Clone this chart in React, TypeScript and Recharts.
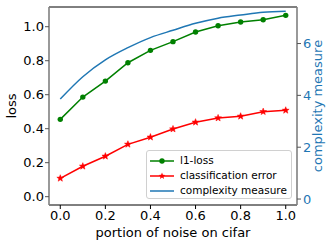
import { LineChart, Line, XAxis, YAxis, Legend, ReferenceLine } from 'recharts'

const noise = [0, 0.1, 0.2, 0.3, 0.4, 0.5, 0.6, 0.7, 0.8, 0.9, 1.0]
const l1Loss = [0.455, 0.586, 0.68, 0.788, 0.861, 0.912, 0.969, 1.006, 1.028, 1.041, 1.067]
const classError = [0.108, 0.179, 0.238, 0.308, 0.35, 0.398, 0.438, 0.463, 0.473, 0.5, 0.508]
const complexity = [3.86, 4.72, 5.37, 5.84, 6.23, 6.51, 6.78, 6.98, 7.1, 7.21, 7.25]

const xTicks = [0, 0.2, 0.4, 0.6, 0.8, 1.0]
const lossTicks = [0, 0.2, 0.4, 0.6, 0.8, 1.0]
const complexityTicks = [0, 2, 4, 6]

const lossDomain = [-0.049, 1.116]
const complexityDomain = [-0.23, 7.41]

const legendOrder = ['l1', 'err', 'cx']

const font = '"DejaVu Sans", sans-serif'
const GREEN = '#008000'
const RED = '#ff0000'
const BLUE = '#1f77b4'

const data = noise.map((x, i) => ({
  noise: x,
  l1: l1Loss[i],
  err: classError[i],
  cx: complexity[i]
}))

function starPath(cx: number, cy: number, r: number) {
  const pts: string[] = []
  for (let k = 0; k < 10; k++) {
    const rad = k % 2 === 0 ? r : r * 0.42
    const a = -Math.PI / 2 + (k * Math.PI) / 5
    pts.push(`${cx + rad * Math.cos(a)},${cy + rad * Math.sin(a)}`)
  }
  return `M${pts.join('L')}Z`
}

function StarDot(props: any) {
  const { cx, cy } = props
  if (cx == null || cy == null) return null
  return <path key={props.key ?? `${cx}-${cy}`} d={starPath(cx, cy, 3.6)} fill={RED} stroke={RED} strokeWidth={0.5} />
}

function LegendBox(props: any) {
  const payload = [...(props.payload || [])].sort(
    (a: any, b: any) => legendOrder.indexOf(a.dataKey) - legendOrder.indexOf(b.dataKey)
  )
  return (
    <div
      style={{
        width: 146,
        height: 49,
        boxSizing: 'border-box',
        border: '1px solid #d0d0d0',
        borderRadius: 3,
        background: 'rgba(255,255,255,0.8)',
        fontFamily: font,
        fontSize: 10.5,
        color: '#000',
        padding: '2px 0 0 2px'
      }}
    >
      {payload.map((entry: any) => (
        <div key={entry.value} style={{ display: 'flex', alignItems: 'center', height: 15 }}>
          <svg width={26} height={10} style={{ display: 'block' }}>
            <line x1={1} x2={25} y1={5} y2={5} stroke={entry.color} strokeWidth={1.5} />
            {entry.dataKey === 'l1' && <circle cx={13} cy={5} r={2.7} fill={GREEN} />}
            {entry.dataKey === 'err' && <path d={starPath(13, 5, 3.6)} fill={RED} />}
          </svg>
          <span style={{ marginLeft: 5, whiteSpace: 'nowrap', lineHeight: '15px' }}>{entry.value}</span>
        </div>
      ))}
    </div>
  )
}

function LossLabel(props: any) {
  const { x, y, height } = props.viewBox
  const cx = x + 15.5
  const cy = y + height / 2
  return (
    <text x={cx} y={cy} transform={`rotate(-90 ${cx} ${cy})`} textAnchor="middle" fontSize={13} fontFamily={font} fill="#000">
      loss
    </text>
  )
}

function ComplexityLabel(props: any) {
  const { x, y, height } = props.viewBox
  const cx = x + 25
  const cy = y + height / 2
  return (
    <text x={cx} y={cy} transform={`rotate(-90 ${cx} ${cy})`} textAnchor="middle" fontSize={13} fontFamily={font} fill={BLUE}>
      complexity measure
    </text>
  )
}

export default function App() {
  return (
    <div style={{ width: 332, height: 246, position: 'relative', background: '#fff' }}>
      <style>{'body{margin:0}'}</style>
      <LineChart width={332} height={246} data={data} margin={{ top: 7, right: 0, bottom: 0, left: 0 }}>
        <XAxis
          dataKey="noise"
          type="number"
          domain={[-0.05, 1.05]}
          ticks={xTicks}
          allowDataOverflow
          tickFormatter={(v: number) => v.toFixed(1)}
          height={41}
          tickSize={4}
          tickMargin={2}
          axisLine={{ stroke: '#000' }}
          tickLine={{ stroke: '#000' }}
          tick={{ fill: '#000', fontSize: 13, fontFamily: font }}
          label={{ value: 'portion of noise on cifar', position: 'insideBottom', offset: 9, fill: '#000', fontSize: 13, fontFamily: font }}
        />
        <YAxis
          yAxisId="loss"
          domain={lossDomain}
          ticks={lossTicks}
          allowDataOverflow
          tickFormatter={(v: number) => v.toFixed(1)}
          width={49}
          tickSize={4}
          tickMargin={1}
          axisLine={{ stroke: '#808080', strokeWidth: 1.6 }}
          tickLine={{ stroke: '#555' }}
          tick={{ fill: '#000', fontSize: 13, fontFamily: font }}
          label={(p: any) => <LossLabel {...p} />}
        />
        <YAxis
          yAxisId="cx"
          orientation="right"
          domain={complexityDomain}
          ticks={complexityTicks}
          allowDataOverflow
          width={35}
          tickSize={4}
          tickMargin={2}
          axisLine={{ stroke: '#808080', strokeWidth: 1.6 }}
          tickLine={{ stroke: '#555' }}
          tick={{ fill: BLUE, fontSize: 13, fontFamily: font }}
          label={(p: any) => <ComplexityLabel {...p} />}
        />
        <ReferenceLine yAxisId="loss" y={lossDomain[1]} stroke="#000" strokeWidth={1} />
        <Line
          yAxisId="loss"
          dataKey="l1"
          name="l1-loss"
          stroke={GREEN}
          strokeWidth={1.5}
          dot={{ r: 2.7, fill: GREEN, stroke: GREEN, strokeWidth: 0 }}
          isAnimationActive={false}
        />
        <Line
          yAxisId="loss"
          dataKey="err"
          name="classification error"
          stroke={RED}
          strokeWidth={1.5}
          dot={StarDot}
          isAnimationActive={false}
        />
        <Line
          yAxisId="cx"
          dataKey="cx"
          name="complexity measure"
          stroke={BLUE}
          strokeWidth={1.5}
          dot={false}
          type="monotone"
          isAnimationActive={false}
        />
        <Legend
          layout="vertical"
          align="center"
          verticalAlign="middle"
          content={(p: any) => <LegendBox {...p} />}
          wrapperStyle={{ left: 146, top: 150, width: 146, height: 49 }}
        />
      </LineChart>
    </div>
  )
}
